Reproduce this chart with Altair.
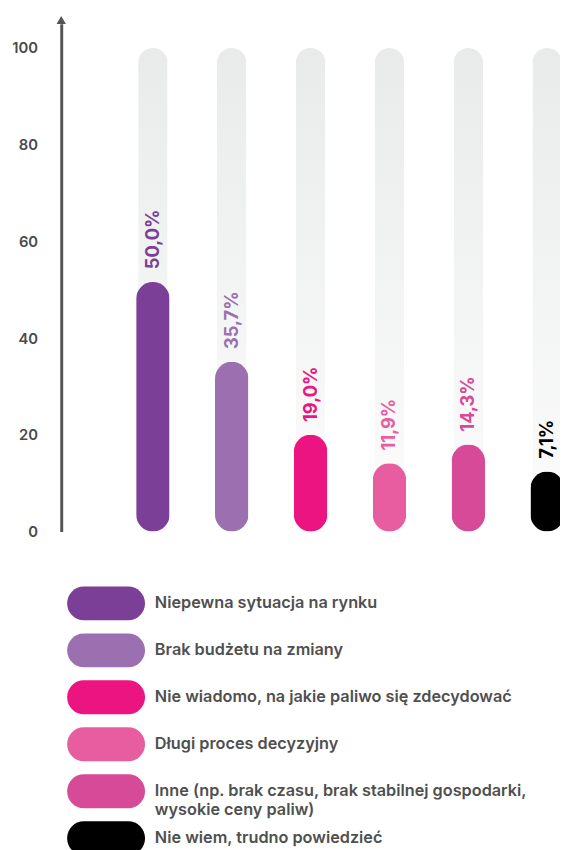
import altair as alt
import pandas as pd

categories = [
    "Niepewna sytuacja na rynku",
    "Brak budżetu na zmiany",
    "Nie wiadomo, na jakie paliwo się zdecydować",
    "Długi proces decyzyjny",
    "Inne (np. brak czasu, brak stabilnej gospodarki, wysokie ceny paliw)",
    "Nie wiem, trudno powiedzieć",
]
legend_labels = [
    "Niepewna sytuacja na rynku",
    "Brak budżetu na zmiany",
    "Nie wiadomo, na jakie paliwo się zdecydować",
    "Długi proces decyzyjny",
    "Inne (np. brak czasu, brak stabilnej gospodarki,\nwysokie ceny paliw)",
    "Nie wiem, trudno powiedzieć",
]
values = [50.0, 35.7, 19.0, 11.9, 14.3, 7.1]          # printed labels
bar_heights = [51.6, 35.1, 20.0, 14.1, 18.0, 12.4]    # drawn bar heights as read
colors = ["#7B3F98", "#9C70B0", "#EC1481", "#E85D9F", "#D64A97", "#000000"]
y_ticks = [0, 20, 40, 60, 80, 100]

FONT = "Inter"
df = pd.DataFrame({
    "cat": categories,
    "value": values,
    "h": bar_heights,
    "full": [100] * len(categories),
    "label": [f"{v:.1f}%".replace(".", ",") for v in values],
    "legend": legend_labels,
})

H = 515
xscale = alt.Scale(type="point", domain=categories, range=[93, 493], padding=0)
yscale = alt.Scale(domain=[0, 105], nice=False)
color = alt.Color("cat:N", scale=alt.Scale(domain=categories, range=colors), legend=None)

base = alt.Chart(df)

bg = base.mark_bar(
    size=30, cornerRadius=15,
    color=alt.Gradient(gradient="linear", x1=0, x2=0, y1=0, y2=1,
                       stops=[alt.GradientStop(color="#E9EBEB", offset=0),
                              alt.GradientStop(color="#FCFCFC", offset=1)]),
).encode(
    x=alt.X("cat:N", scale=xscale, axis=None, sort=None),
    y=alt.Y("full:Q", scale=yscale,
            axis=alt.Axis(values=y_ticks, grid=False, ticks=False, domainColor="#555555",
                          domainWidth=3, labelColor="#4A4A4A", labelFontSize=15,
                          labelFontWeight=600, labelFont=FONT, labelPadding=24, title=None)),
)

bars = base.mark_bar(size=34, cornerRadius=17).encode(
    x=alt.X("cat:N", scale=xscale, axis=None, sort=None),
    y=alt.Y("h:Q", scale=yscale, axis=None),
    color=color,
)

labels = base.mark_text(angle=270, align="left", baseline="middle", dx=13,
                        fontSize=18.5, fontWeight="bold", font=FONT).encode(
    x=alt.X("cat:N", scale=xscale, axis=None, sort=None),
    y=alt.Y("h:Q", scale=yscale, axis=None),
    text="label:N",
    color=color,
)

arrow = alt.Chart(pd.DataFrame({"a": [0]})).mark_point(
    shape="triangle-up", filled=True, size=90, color="#555555", opacity=1, strokeWidth=0
).encode(x=alt.value(0), y=alt.value(-4))

legscale = alt.Scale(domain=categories, range=[564, 850], paddingInner=0.28, paddingOuter=0.14)

leg_rect = base.mark_rect(cornerRadius=17).encode(
    y=alt.Y("cat:N", scale=legscale, axis=None, sort=None),
    x=alt.value(6), x2=alt.value(85),
    color=color,
)
leg_text = base.mark_text(align="left", baseline="middle", fontSize=16.5, fontWeight=600,
                          font=FONT, color="#4F4F4F", lineBreak="\n", lineHeight=19).encode(
    y=alt.Y("cat:N", scale=legscale, axis=None, sort=None),
    x=alt.value(95),
    text="legend:N",
)

chart = alt.layer(bg, bars, labels, arrow, leg_rect, leg_text).resolve_scale(
    y="independent"
).properties(
    width=506, height=H,
    autosize=alt.AutoSizeParams(type="none"),
    padding={"left": 54, "top": 10, "right": 0, "bottom": 317},
).configure_view(stroke=None)

chart.save("out.html", embed_options={"renderer": "svg", "actions": False})
